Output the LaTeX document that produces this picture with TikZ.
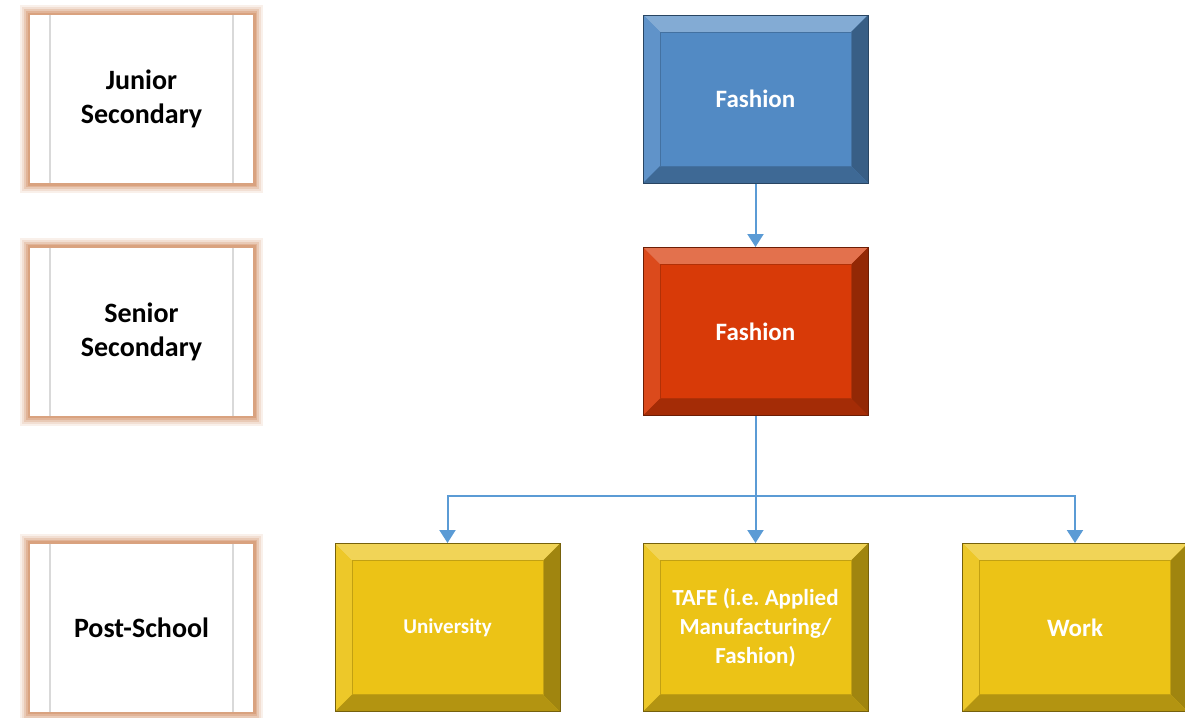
\documentclass[tikz,border=0pt]{standalone}
\usepackage{fontspec}
\setmainfont{Carlito}
\usetikzlibrary{positioning,arrows.meta}
\definecolor{fashblue}{RGB}{82,138,196}
\definecolor{fashred}{RGB}{216,58,8}
\definecolor{postyellow}{RGB}{236,195,22}
\definecolor{linkblue}{RGB}{91,155,213}
\definecolor{glow}{RGB}{214,154,116}
\tikzstyle{level} = [fill=white, minimum width=111.5pt, minimum height=84pt, inner sep=0,
  align=center, font=\bfseries\fontsize{14}{17}\selectfont,
  preaction={draw=glow, line width=10pt, opacity=0.15},
  preaction={draw=glow, line width=8pt, opacity=0.2},
  preaction={draw=glow, line width=6pt, opacity=0.3},
  preaction={draw=glow, line width=4pt, opacity=0.45},
  preaction={draw=glow, line width=2.5pt, opacity=0.7},
  path picture={
    \draw[black!15, line width=0.6pt]
      ([xshift=10pt]path picture bounding box.north west) -- ([xshift=10pt]path picture bounding box.south west)
      ([xshift=-10pt]path picture bounding box.north east) -- ([xshift=-10pt]path picture bounding box.south east);
  }]
\tikzstyle{link} = [draw=linkblue, line width=1pt]
\tikzset{
  bevel/.style={fill=#1, draw=#1!50!black, line width=0.5pt, minimum width=112.5pt,
    minimum height=84pt, inner sep=0, align=center, text=white,
    font=\bfseries\fontsize{12.5}{15}\selectfont,
    path picture={
      % lit top and left, shaded bottom and right
      \fill[#1!72!white] (path picture bounding box.north west) -- (path picture bounding box.north east)
        -- ([shift={(-8.5pt,-8.5pt)}]path picture bounding box.north east)
        -- ([shift={(8.5pt,-8.5pt)}]path picture bounding box.north west) -- cycle;
      \fill[#1!92!white] (path picture bounding box.north west) -- (path picture bounding box.south west)
        -- ([shift={(8.5pt,8.5pt)}]path picture bounding box.south west)
        -- ([shift={(8.5pt,-8.5pt)}]path picture bounding box.north west) -- cycle;
      \fill[#1!68!black] (path picture bounding box.north east) -- (path picture bounding box.south east)
        -- ([shift={(-8.5pt,8.5pt)}]path picture bounding box.south east)
        -- ([shift={(-8.5pt,-8.5pt)}]path picture bounding box.north east) -- cycle;
      \fill[#1!76!black] (path picture bounding box.south west) -- (path picture bounding box.south east)
        -- ([shift={(-8.5pt,8.5pt)}]path picture bounding box.south east)
        -- ([shift={(8.5pt,8.5pt)}]path picture bounding box.south west) -- cycle;
      \draw[#1!82!black, line width=0.4pt] ([shift={(8.5pt,-8.5pt)}]path picture bounding box.north west)
        rectangle ([shift={(-8.5pt,8.5pt)}]path picture bounding box.south east);
    }}
}

\begin{document}
\begin{tikzpicture}[x=0.5pt, y=-0.5pt, >={Triangle[width=8pt,length=6.5pt]}]
  \useasboundingbox (0,0) rectangle (1185,718);

  % levels
  \node [level] (junior) at (141.5,99) {Junior\\Secondary};
  \node [level, below of=junior, node distance=116.25pt] (senior) {Senior\\Secondary};
  \node [level, below of=senior, node distance=148pt] (postschool) {Post-School};

  % pathway
  \node [bevel=fashblue, right of=junior, node distance=307pt] (fashjr) {Fashion};
  \node [bevel=fashred, right of=senior, node distance=307pt] (fashsr) {Fashion};
  \node [bevel=postyellow, right of=postschool, node distance=307pt,
    font=\bfseries\fontsize{11.5}{14.5}\selectfont] (tafe) {TAFE (i.e.\ Applied\\Manufacturing/\\Fashion)};
  \node [bevel=postyellow, left of=tafe, node distance=154pt,
    font=\bfseries\fontsize{10.5}{13}\selectfont] (uni) {University};
  \node [bevel=postyellow, right of=tafe, node distance=159.75pt] (work) {Work};

  \coordinate (fork) at ([yshift=-40pt]fashsr.south);

  \draw [link, ->] (fashjr) -- (fashsr);
  \draw [link, ->] (fashsr) -- (tafe);
  \draw [link, ->] (fork) -| (uni);
  \draw [link, ->] (fork) -| (work);
\end{tikzpicture}
\end{document}
